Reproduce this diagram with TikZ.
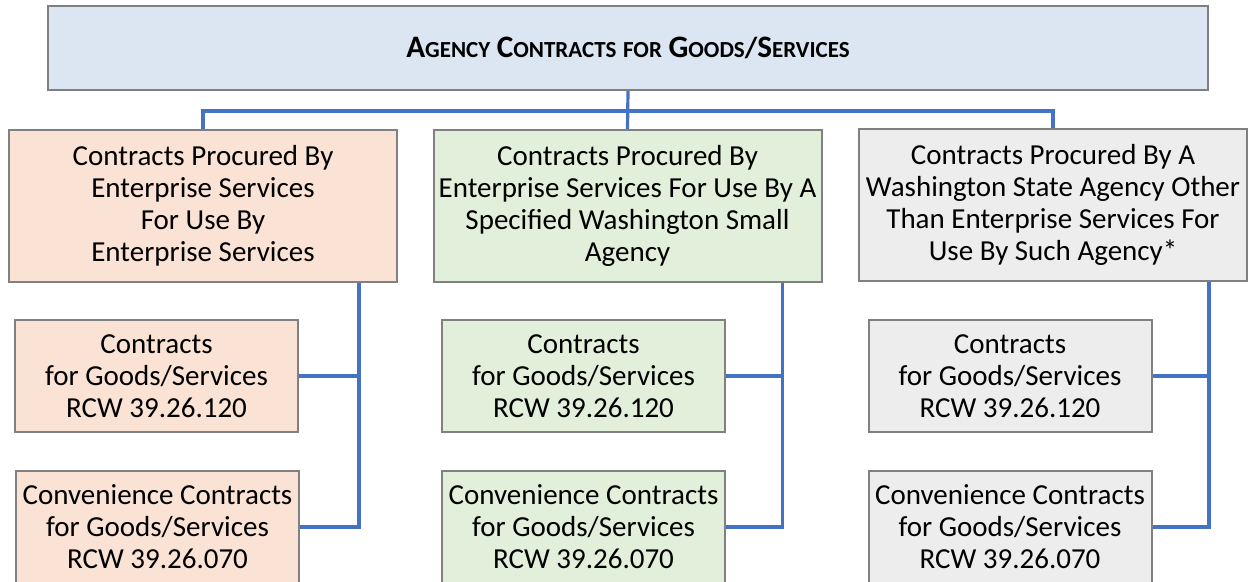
\documentclass[tikz,border=0pt]{standalone}
\usepackage{fontspec}
\setmainfont{Carlito}
\usetikzlibrary{positioning}

\definecolor{topblue}{HTML}{DCE6F2}
\definecolor{peach}{HTML}{FAE3D5}
\definecolor{palegreen}{HTML}{E2EFDA}
\definecolor{palegrey}{HTML}{EDEDED}
\definecolor{linkblue}{HTML}{4472C4}

\newcommand{\smcap}[2]{{\fontsize{15.6}{18}\selectfont #1}{\fontsize{11.5}{13}\selectfont #2}}

\begin{document}
\begin{tikzpicture}[x=0.5pt,y=-0.5pt,
  box/.style={draw=black!50,line width=1pt,align=center,inner sep=1pt,
    font=\fontsize{14.5}{16}\selectfont},
  head/.style={box,minimum width=194pt,minimum height=76pt},
  leaf/.style={box,minimum width=141.5pt,minimum height=56pt},
  link/.style={draw=linkblue,line width=1.6pt}]

\useasboundingbox (0,0) rectangle (1248,582);

\node[box,fill=topblue,minimum width=580pt,minimum height=42pt] (agency) at (628,48)
  {\bfseries\smcap{A}{GENCY} \smcap{C}{ONTRACTS} \smcap{}{FOR} \smcap{G}{OODS}/\smcap{S}{ERVICES}};

\node[head,fill=peach] (es) at (203,206)
  {Contracts Procured By\\Enterprise Services\\For Use By\\Enterprise Services};
\node[head,fill=palegreen] (small) at (627.5,206)
  {Contracts Procured By\\Enterprise Services For Use By A\\Specified Washington Small\\Agency};
\node[head,fill=palegrey] (other) at (1053,205)
  {Contracts Procured By A\\Washington State Agency Other\\Than Enterprise Services For\\Use By Such Agency*};

\node[leaf,fill=peach] (es-goods) at (156.5,376) {Contracts\\for Goods/Services\\RCW 39.26.120};
\node[leaf,fill=peach] (es-conv) at (157.5,527) {Convenience Contracts\\for Goods/Services\\RCW 39.26.070};
\node[leaf,fill=palegreen] (small-goods) at (583.5,376) {Contracts\\for Goods/Services\\RCW 39.26.120};
\node[leaf,fill=palegreen] (small-conv) at (583.5,527) {Convenience Contracts\\for Goods/Services\\RCW 39.26.070};
\node[leaf,fill=palegrey] (other-goods) at (1010,376) {Contracts\\for Goods/Services\\RCW 39.26.120};
\node[leaf,fill=palegrey] (other-conv) at (1010,527) {Convenience Contracts\\for Goods/Services\\RCW 39.26.070};

% top level
\coordinate (bus) at (628,111);
\draw[link] (agency.south) -- (small.north);
\draw[link] (es.north) |- (bus) -| (other.north);

% branches
\coordinate (es-trunk) at ([xshift=-19.5pt]es.south east);
\coordinate (small-trunk) at ([xshift=-20pt]small.south east);
\coordinate (other-trunk) at ([xshift=-19.5pt]other.south east);
\draw[link] (es-trunk) |- (es-conv.east);
\draw[link] (es-goods.east) -- (es-goods.east -| es-trunk);
\draw[link] (small-trunk) |- (small-conv.east);
\draw[link] (small-goods.east) -- (small-goods.east -| small-trunk);
\draw[link] (other-trunk) |- (other-conv.east);
\draw[link] (other-goods.east) -- (other-goods.east -| other-trunk);
\end{tikzpicture}
\end{document}
